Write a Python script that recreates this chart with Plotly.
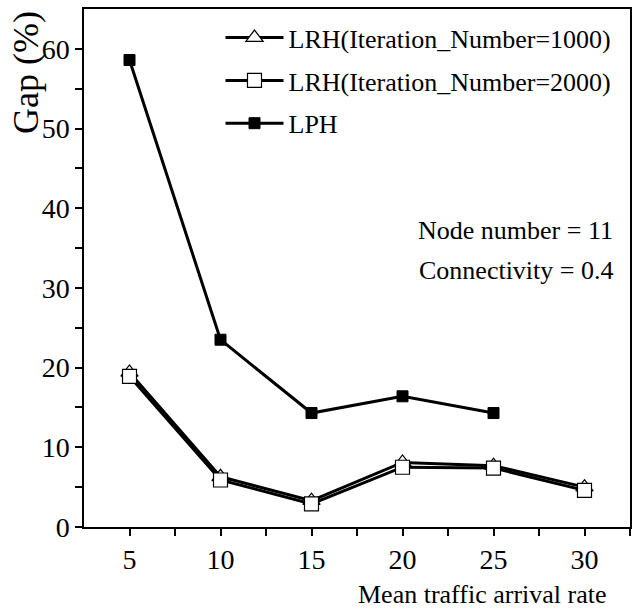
import plotly.graph_objects as go

rates = [5, 10, 15, 20, 25, 30]
lrh_1000 = [19.4, 6.3, 3.3, 8.1, 7.7, 5.0]
lrh_2000 = [18.9, 5.9, 2.9, 7.5, 7.4, 4.6]
lph_rates = [5, 10, 15, 20, 25]
lph = [58.6, 23.5, 14.3, 16.4, 14.3]

names = ["LRH(Iteration_Number=1000)", "LRH(Iteration_Number=2000)", "LPH"]
FONT = "Times New Roman, Liberation Serif, DejaVu Serif, serif"

fig = go.Figure()
fig.add_trace(go.Scatter(
    x=rates, y=lrh_1000, mode="lines+markers", name=names[0], legendgroup="a",
    line=dict(color="black", width=3),
    marker=dict(symbol="triangle-up", size=15, color="white", line=dict(color="black", width=1.2)),
))
fig.add_trace(go.Scatter(
    x=rates, y=lrh_2000, mode="lines+markers", name=names[1], legendgroup="b",
    line=dict(color="black", width=3),
    marker=dict(symbol="square", size=14, color="white", line=dict(color="black", width=1.2)),
))
fig.add_trace(go.Scatter(
    x=lph_rates, y=lph, mode="lines+markers", name=names[2], legendgroup="c",
    line=dict(color="black", width=3),
    marker=dict(symbol="square", size=11, color="black", line=dict(color="black", width=1)),
))

fig.update_layout(
    width=637, height=612,
    margin=dict(l=84, r=5, t=9, b=85),
    paper_bgcolor="white", plot_bgcolor="white",
    font=dict(family=FONT, color="black", size=26),
    showlegend=True,
    legend=dict(
        x=0.25, y=0.99, xanchor="left", yanchor="top",
        bgcolor="rgba(0,0,0,0)", borderwidth=0,
        font=dict(family=FONT, size=26, color="black"),
        itemwidth=58, tracegroupgap=6, traceorder="grouped",
    ),
    xaxis=dict(
        range=[2.5, 32.5], tickvals=rates, ticktext=[str(r) for r in rates],
        showline=True, linecolor="black", linewidth=1.5, mirror=True,
        ticks="outside", ticklen=7, tickwidth=1.5, tickcolor="black",
        minor=dict(tickvals=[7.5, 12.5, 17.5, 22.5, 27.5, 32.5], ticks="outside", ticklen=7, tickwidth=1.5, tickcolor="black"),
        showgrid=False, zeroline=False,
        tickfont=dict(family=FONT, size=28),
    ),
    yaxis=dict(
        range=[0, 65], tickvals=[0, 10, 20, 30, 40, 50, 60],
        showline=True, linecolor="black", linewidth=1.5, mirror=True,
        ticks="outside", ticklen=7, tickwidth=1.5, tickcolor="black",
        minor=dict(tickvals=[5, 15, 25, 35, 45, 55], ticks="outside", ticklen=7, tickwidth=1.5, tickcolor="black"),
        showgrid=False, zeroline=False,
        tickfont=dict(family=FONT, size=28),
    ),
    annotations=[
        dict(text="Gap (%)", xref="paper", yref="paper", x=-0.107, y=1.0,
             xanchor="center", yanchor="top", textangle=-90, showarrow=False,
             font=dict(family=FONT, size=36)),
        dict(text="Mean traffic arrival rate", xref="paper", yref="paper", x=0.962, y=-0.131,
             xanchor="right", yanchor="middle", showarrow=False,
             font=dict(family=FONT, size=26)),
        dict(text="Node number = 11", xref="paper", yref="paper",
             x=0.972, y=0.573, xanchor="right", yanchor="middle", showarrow=False,
             font=dict(family=FONT, size=26)),
        dict(text="Connectivity = 0.4", xref="paper", yref="paper",
             x=0.972, y=0.496, xanchor="right", yanchor="middle", showarrow=False,
             font=dict(family=FONT, size=26)),
    ],
)

fig.write_html("out.html")
